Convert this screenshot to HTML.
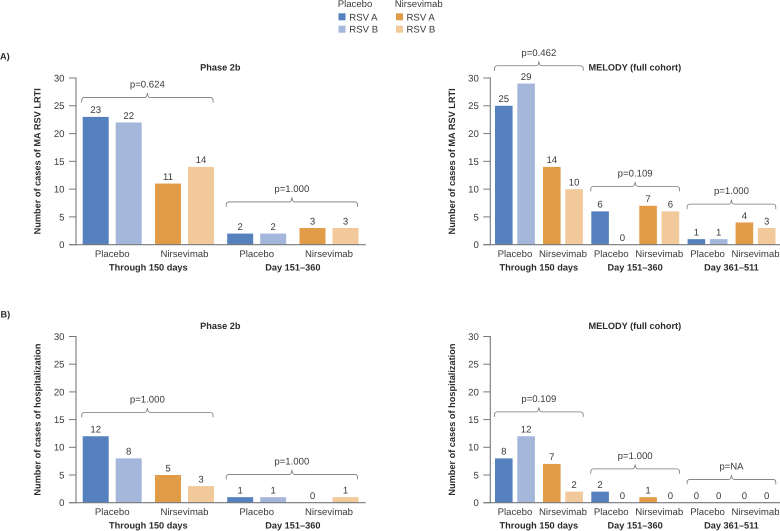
<!DOCTYPE html>
<html lang="en">
<head>
<meta charset="utf-8">
<title>Cases of MA RSV LRTI and hospitalization</title>
<style>
html,body{margin:0;padding:0;background:#fff;width:780px;height:531px;overflow:hidden}
svg{display:block;font-family:"Liberation Sans",Arial,sans-serif;fill:#3a3a3c;text-rendering:geometricPrecision;filter:blur(0.3px)}
.t{font-size:9.6px}
.b{font-size:9.2px;font-weight:bold;fill:#2b2b2d}
</style>
</head>
<body>
<svg id="chart" xmlns="http://www.w3.org/2000/svg" width="780" height="531" viewBox="0 0 780 531">
  <g>
    <text class="t" x="337.700" y="7">Placebo</text>
    <text class="t" x="394.700" y="7">Nirsevimab</text>
    <rect x="338.500" y="13.300" width="7" height="7" fill="#5582bf"/>
    <text class="t" x="349.300" y="20.300">RSV A</text>
    <rect x="338.500" y="25.700" width="7" height="7" fill="#a4b7db"/>
    <text class="t" x="349.300" y="32.700">RSV B</text>
    <rect x="396" y="13.300" width="7" height="7" fill="#e29c48"/>
    <text class="t" x="406.500" y="20.300">RSV A</text>
    <rect x="396" y="25.700" width="7" height="7" fill="#f1c99b"/>
    <text class="t" x="406.500" y="32.700">RSV B</text>
  </g>
  <text class="b" x="0" y="59.500">A)</text>
  <text class="b" x="0.500" y="317.500">B)</text>
</svg>
<script>
// Values per timeframe, in the order: Placebo A, Placebo B, Nirsevimab A, Nirsevimab B
var phase2bLrti = [[23, 22, 11, 14], [2, 2, 3, 3]];
var melodyLrti = [[25, 29, 14, 10], [6, 0, 7, 6], [1, 1, 4, 3]];
var phase2bHosp = [[12, 8, 5, 3], [1, 1, 0, 1]];
var melodyHosp = [[8, 12, 7, 2], [2, 0, 1, 0], [0, 0, 0, 0]];

// p-value labels per timeframe
var phase2bLrtiP = ["p=0.624", "p=1.000"];
var melodyLrtiP = ["p=0.462", "p=0.109", "p=1.000"];
var phase2bHospP = ["p=1.000", "p=1.000"];
var melodyHospP = ["p=0.109", "p=1.000", "p=NA"];

// Bracket height on the value axis, per timeframe
var phase2bLrtiBracket = [26.5, 7.7];
var melodyLrtiBracket = [32.2, 10.5, 7.3];
var phase2bHospBracket = [16.3, 5.1];
var melodyHospBracket = [16.4, 6.1, 4.2];

// Labels
var yTicks = [0, 5, 10, 15, 20, 25, 30];
var armLabels = ["Placebo", "Nirsevimab"];
var timeframesPhase2b = ["Through 150 days", "Day 151\u2013360"];
var timeframesMelody = ["Through 150 days", "Day 151\u2013360", "Day 361\u2013511"];

var NS = "http://www.w3.org/2000/svg";
var root = document.getElementById("chart");
var barColors = ["#5582bf", "#a4b7db", "#e29c48", "#f1c99b"];
var axisColor = "#77787b";
var bracketColor = "#77787b";

function add(parent, tag, attrs, text) {
  var el = document.createElementNS(NS, tag);
  for (var k in attrs) {
    el.setAttribute(k, attrs[k]);
  }
  if (text !== undefined) {
    el.textContent = text;
  }
  parent.appendChild(el);
  return el;
}

function drawPanel(cfg) {
  var g = add(root, "g", {});
  
  

  function yScale(v) {
    return cfg.y0 - v * (cfg.y0 - cfg.y30) / 30;
  }
  function barLeft(group, idx) {
    var pair = Math.floor(idx / 2);
    return cfg.start + group * cfg.groupStep + pair * cfg.pairStep + (idx % 2) * cfg.barStep;
  }

  var title = add(g, "text", {"class": "b", x: cfg.titleX, y: cfg.y30 - 7.500, "text-anchor": "middle"}, cfg.title);
  
  

  var yTitleY = (cfg.y0 + cfg.y30) / 2;
  var yTitle = add(g, "text", {
    "class": "b", x: cfg.axisX - 35.500, y: yTitleY, "text-anchor": "middle",
    transform: "rotate(-90 " + (cfg.axisX - 35.500) + " " + yTitleY + ")"
  }, cfg.yTitle);
  
  

  yTicks.forEach(function (t) {
    var y = yScale(t);
    var tick = add(g, "line", {x1: cfg.axisX - 7, x2: cfg.axisX, y1: y, y2: y, stroke: axisColor, "stroke-width": 1});
    
    
    var label = add(g, "text", {"class": "t", x: cfg.axisX - 11.500, y: y + 3.400, "text-anchor": "end"}, t);
    
    
  });

  cfg.values.forEach(function (groupVals, gi) {
    groupVals.forEach(function (v, i) {
      var x = barLeft(gi, i);
      var bar = add(g, "rect", {x: x, y: yScale(v), width: cfg.barW, height: cfg.y0 - yScale(v), fill: barColors[i]});
      
      
      var val = add(g, "text", {"class": "t", x: x + cfg.barW / 2, y: yScale(v) - 3.700, "text-anchor": "middle"}, v);
      
      
    });

    armLabels.forEach(function (arm, a) {
      var cx = (barLeft(gi, a * 2) + barLeft(gi, a * 2 + 1) + cfg.barW) / 2;
      var armText = add(g, "text", {"class": "t", x: cx, y: cfg.y0 + 12.300, "text-anchor": "middle"}, arm);
      
      
    });

    var left = barLeft(gi, 0) + cfg.bracketPadL;
    var right = barLeft(gi, 3) + cfg.barW + cfg.bracketPadR;
    var mid = (left + right) / 2;
    var groupText = add(g, "text", {"class": "b", x: mid + cfg.groupLabelShift, y: cfg.y0 + 26, "text-anchor": "middle"}, cfg.timeframes[gi]);
    
    

    var by = yScale(cfg.brackets[gi]);
    var d = "M" + left + " " + (by + 5) + "V" + (by + 3) + "Q" + left + " " + by + " " + (left + 3) + " " + by +
      "H" + (mid - 2.500) + "Q" + (mid - 0.500) + " " + by + " " + mid + " " + (by - 4.500) +
      "Q" + (mid + 0.500) + " " + by + " " + (mid + 2.500) + " " + by +
      "H" + (right - 3) + "Q" + right + " " + by + " " + right + " " + (by + 3) + "V" + (by + 5);
    var bracket = add(g, "path", {d: d, fill: "none", stroke: bracketColor, "stroke-width": 0.800});
    
    
    var pText = add(g, "text", {"class": "t", x: mid, y: by - 10, "text-anchor": "middle"}, cfg.pValues[gi]);
    
    
  });

  var yAxis = add(g, "line", {x1: cfg.axisX, x2: cfg.axisX, y1: cfg.y30 - 0.500, y2: cfg.y0 + 0.500, stroke: axisColor, "stroke-width": 1.100});
  
  
  var xAxis = add(g, "line", {x1: cfg.axisX - 7, x2: cfg.axisEnd, y1: cfg.y0, y2: cfg.y0, stroke: axisColor, "stroke-width": 1.100});
  
  
}

var leftLayout = {axisX: 76, axisEnd: 365.700, start: 82.700, groupStep: 144.500, pairStep: 72.300, barStep: 33, barW: 26, titleX: 220.300, bracketPadL: -1, bracketPadR: -1, groupLabelShift: 1};
var rightLayout = {axisX: 490.300, axisEnd: 780, start: 495, groupStep: 96.300, pairStep: 48, barStep: 22.300, barW: 17.600, titleX: 634.800, bracketPadL: -0.500, bracketPadR: 0.300, groupLabelShift: 0};

function merge(base, extra) {
  var out = {};
  for (var k in base) { out[k] = base[k]; }
  for (var j in extra) { out[j] = extra[j]; }
  return out;
}

drawPanel(merge(leftLayout, {name: "phase-2b-lrti-chart", title: "Phase 2b", yTitle: "Number of cases of MA RSV LRTI", y30: 78, y0: 244.700, values: phase2bLrti, pValues: phase2bLrtiP, brackets: phase2bLrtiBracket, timeframes: timeframesPhase2b}));
drawPanel(merge(rightLayout, {name: "melody-lrti-chart", title: "MELODY (full cohort)", yTitle: "Number of cases of MA RSV LRTI", y30: 78, y0: 244.700, values: melodyLrti, pValues: melodyLrtiP, brackets: melodyLrtiBracket, timeframes: timeframesMelody}));
drawPanel(merge(leftLayout, {name: "phase-2b-hospitalization-chart", title: "Phase 2b", yTitle: "Number of cases of hospitalization", y30: 336.500, y0: 502.700, values: phase2bHosp, pValues: phase2bHospP, brackets: phase2bHospBracket, timeframes: timeframesPhase2b}));
drawPanel(merge(rightLayout, {name: "melody-hospitalization-chart", title: "MELODY (full cohort)", yTitle: "Number of cases of hospitalization", y30: 336.500, y0: 502.700, values: melodyHosp, pValues: melodyHospP, brackets: melodyHospBracket, timeframes: timeframesMelody}));
</script>
</body>
</html>
